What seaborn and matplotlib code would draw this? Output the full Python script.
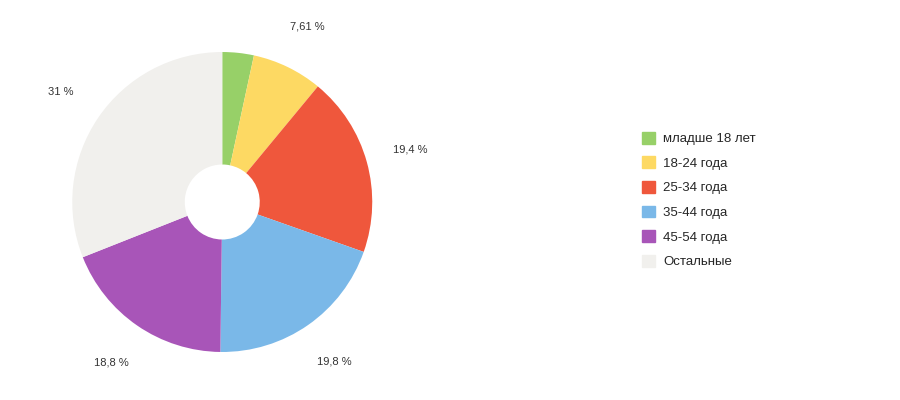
import matplotlib
matplotlib.use("Agg")
import matplotlib.pyplot as plt
import seaborn as sns
from matplotlib.patches import Patch

sns.set_theme(style="white")
plt.rcParams['font.family'] = ['Liberation Sans', 'DejaVu Sans']

categories = ["младше 18 лет", "18-24 года", "25-34 года", "35-44 года", "45-54 года", "Остальные"]
values = [3.39, 7.61, 19.4, 19.8, 18.8, 31.0]
value_labels = ["", "7,61 %", "19,4 %", "19,8 %", "18,8 %", "31 %"]
colors = ["#97d068", "#fdd963", "#ef573c", "#7ab8e8", "#a855b8", "#f1f0ed"]

fig = plt.figure(figsize=(9, 4), dpi=100)
ax = fig.add_axes([0.247 - 0.1667, 0.495 - 0.375, 0.3333, 0.75])
wedges, texts = ax.pie(values, labels=value_labels, colors=colors, startangle=90,
                       counterclock=False, labeldistance=1.3,
                       wedgeprops=dict(width=0.75, edgecolor="none", linewidth=0),
                       textprops=dict(fontsize=8, color="#333333"))
for t in texts:
    t.set_horizontalalignment("center")
    t.set_clip_on(False)
ax.set_xlim(-1, 1)
ax.set_ylim(-1, 1)
ax.set_aspect("equal")

handles = [Patch(facecolor=c, edgecolor=c) for c in colors]
fig.legend(handles, categories, loc="center left", bbox_to_anchor=(0.7, 0.5),
           frameon=False, fontsize=9.5, handlelength=1.0, handleheight=1.0,
           labelspacing=0.85, handletextpad=0.6)
fig.savefig("out.png", dpi=100)
